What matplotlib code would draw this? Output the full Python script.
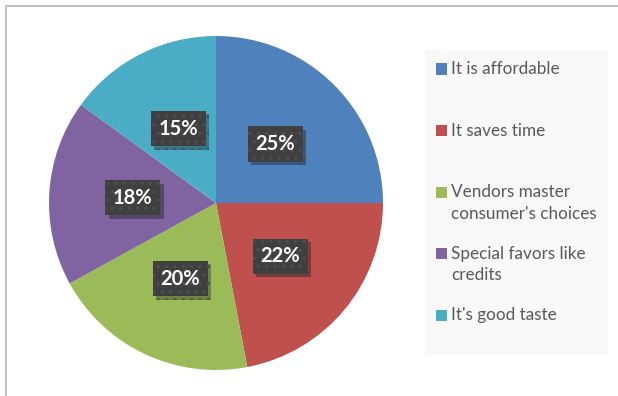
import matplotlib.pyplot as plt
from matplotlib.patches import Rectangle
from matplotlib.lines import Line2D
from matplotlib import patheffects

labels = ["It is affordable", "It saves time",
          "Vendors master\nconsumer's choices",
          "Special favors like\ncredits", "It's good taste"]
shares = [25, 22, 20, 18, 15]
colors = ['#4F81BD', '#C0504D', '#9BBB59', '#8064A2', '#4BACC6']

W, H = 618, 396
plt.rcParams['font.family'] = ['Lato', 'DejaVu Sans']
plt.rcParams['hatch.linewidth'] = 1.2

fig = plt.figure(figsize=(W / 100, H / 100), dpi=100)

# chart frame (left and top edges are the only visible ones)
fig.add_artist(Line2D([6 / W, 6 / W, 1.0], [0.0, 1 - 6 / H, 1 - 6 / H],
                      color='#BFBFBF', lw=1.4, transform=fig.transFigure))

# pie
cx, cy, r = 216, 203, 167
ax = fig.add_axes([(cx - r) / W, (H - cy - r) / H, 2 * r / W, 2 * r / H])
wedges, texts, autotexts = ax.pie(
    shares, colors=colors, startangle=90, counterclock=False,
    autopct=lambda p: '%.0f%%' % p, pctdistance=0.5,
    wedgeprops=dict(linewidth=0))
ax.set_xlim(-1, 1)
ax.set_ylim(-1, 1)
ax.axis('off')

for t in autotexts:
    t.set(color='white', fontweight='bold', fontsize=14.5)
    t.set_bbox(dict(boxstyle='square,pad=0.38', fc='#404040',
                    ec='#4E4E4E', lw=0, hatch='..'))
    t.get_bbox_patch().set_path_effects([
        patheffects.withSimplePatchShadow(offset=(2.5, -2.5),
                                          shadow_rgbFace='black', alpha=0.3)])

# legend, drawn by hand so each entry keeps a fixed step
fig.add_artist(Rectangle((425 / W, 1 - 355 / H), 183 / W, 305 / H,
                         fc='#F8F8F8', ec='none', transform=fig.transFigure))
y0, step, line_h = 69, 61.5, 22
for i, (lab, col) in enumerate(zip(labels, colors)):
    y = y0 + i * step
    fig.add_artist(Rectangle((436 / W, 1 - (y + 5.5) / H), 11 / W, 11 / H,
                             fc=col, ec='none', transform=fig.transFigure))
    for k, line in enumerate(lab.split('\n')):
        fig.text(451 / W, 1 - (y + k * line_h) / H, line, color='#595959',
                 fontsize=12.3, va='center', ha='left')

fig.savefig('out.png', dpi=100)
